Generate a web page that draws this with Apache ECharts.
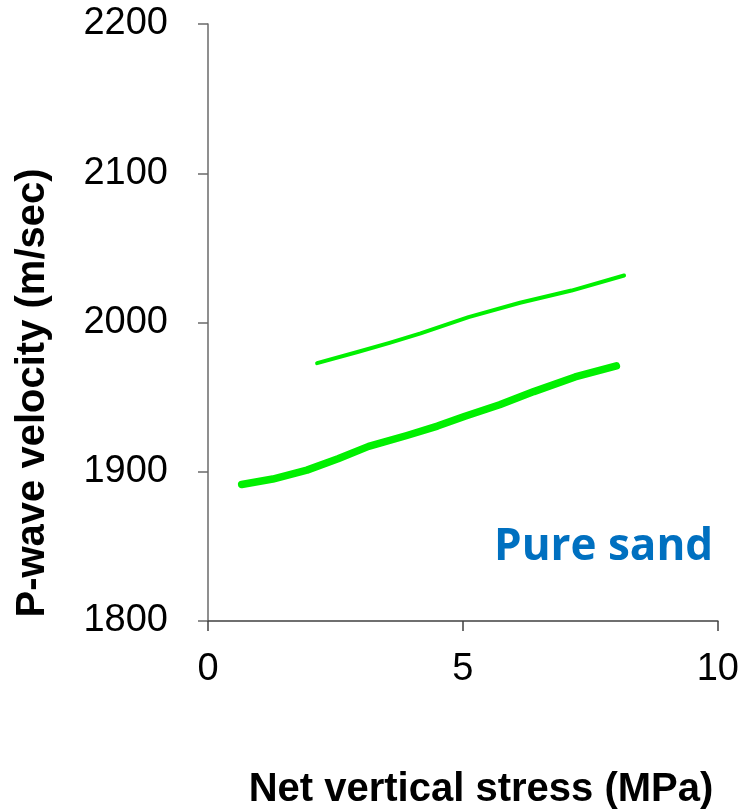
<!DOCTYPE html>
<html>
<head>
<meta charset="utf-8">
<script src="https://cdn.jsdelivr.net/npm/echarts@6/dist/echarts.min.js"></script>
<style>
  html, body { margin: 0; padding: 0; background: #fff; }
  #chart { width: 742px; height: 810px; }
</style>
</head>
<body>
<div id="chart"></div>
<script>
// Net vertical stress (MPa) vs P-wave velocity (m/sec), pure sand
const stressUpper = [2.14, 2.95, 3.56, 4.17, 5.11, 6.12, 7.13, 8.16];
const velocityUpper = [1972.8, 1980.4, 1986.4, 1992.7, 2003.6, 2013.2, 2021.4, 2031.5];

const stressLower = [0.66, 1.27, 1.94, 2.55, 3.15, 3.90, 4.50, 5.04, 5.72, 6.39, 7.20, 8.01];
const velocityLower = [1891.5, 1895.1, 1901.1, 1908.7, 1917.0, 1924.3, 1930.6, 1937.2, 1944.9, 1953.7, 1963.5, 1970.9];

const xTicks = [0, 5, 10];
const yTicks = [1800, 1900, 2000, 2100, 2200];

const xTitle = 'Net vertical stress (MPa)';
const yTitle = 'P-wave velocity (m/sec)';
const noteText = 'Pure sand';

const pairs = (xs, ys) => xs.map((x, i) => [x, ys[i]]);

const chart = echarts.init(document.getElementById('chart'), null, { renderer: 'canvas' });

const tickFont = { fontFamily: 'Liberation Sans', fontSize: 38, color: '#000' };

chart.setOption({
  animation: false,
  backgroundColor: '#ffffff',
  grid: { left: 208, top: 24, right: 23, bottom: 189, containLabel: false },
  xAxis: {
    type: 'value',
    min: xTicks[0],
    max: xTicks[xTicks.length - 1],
    interval: xTicks[1] - xTicks[0],
    axisLine: { show: true, onZero: false, lineStyle: { color: '#404040', width: 1.5 } },
    axisTick: { show: true, inside: false, length: 10, lineStyle: { color: '#404040', width: 1.5 } },
    axisLabel: Object.assign({ margin: 30, formatter: v => String(v) }, tickFont),
    splitLine: { show: false }
  },
  yAxis: {
    type: 'value',
    min: yTicks[0],
    max: yTicks[yTicks.length - 1],
    interval: yTicks[1] - yTicks[0],
    axisLine: { show: true, lineStyle: { color: '#6a6a6a', width: 1.5 } },
    axisTick: { show: true, inside: false, length: 10, lineStyle: { color: '#6a6a6a', width: 1.5 } },
    axisLabel: Object.assign({ margin: 40, formatter: v => String(v) }, tickFont),
    splitLine: { show: false }
  },
  series: [
    {
      type: 'line',
      data: pairs(stressUpper, velocityUpper),
      showSymbol: false,
      smooth: false,
      lineStyle: { color: '#00f000', width: 4, cap: 'round', join: 'round' }
    },
    {
      type: 'line',
      data: pairs(stressLower, velocityLower),
      showSymbol: false,
      smooth: false,
      lineStyle: { color: '#00f000', width: 7.5, cap: 'round', join: 'round' }
    }
  ],
  graphic: [
    {
      type: 'text',
      x: 481, y: 790,
      style: {
        text: xTitle,
        font: 'bold 40px "Liberation Sans"',
        fill: '#000',
        textAlign: 'center',
        textVerticalAlign: 'middle'
      }
    },
    {
      type: 'text',
      x: 33, y: 393,
      rotation: Math.PI / 2,
      style: {
        text: yTitle,
        font: 'bold 40px "Liberation Sans"',
        fill: '#000',
        textAlign: 'center',
        textVerticalAlign: 'middle'
      }
    },
    {
      type: 'text',
      x: 494, y: 569,
      style: {
        text: noteText,
        font: 'bold 44px "Open Sans"',
        fill: '#0070c0',
        textAlign: 'left',
        textVerticalAlign: 'bottom'
      }
    }
  ]
});
</script>
</body>
</html>
